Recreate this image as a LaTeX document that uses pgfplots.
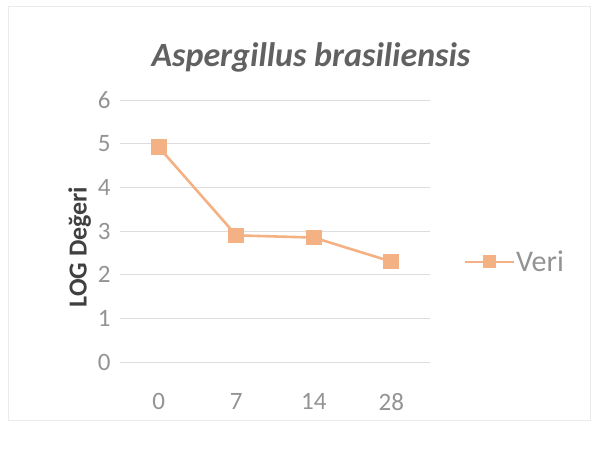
\documentclass[border=0pt]{standalone}
\usepackage{fontspec}
\setmainfont{Carlito}
\usepackage{pgfplots}
\pgfplotsset{compat=1.18}
\definecolor{ser}{HTML}{F4B183}
\definecolor{txt}{HTML}{939393}
\definecolor{grd}{HTML}{DDDDDD}
\begin{document}
\begin{tikzpicture}[x=1pt,y=1pt]
\path[use as bounding box] (0,0) rectangle (594,450);
\draw[grd!60] (8,30) rectangle (590,444);
\begin{axis}[
  at={(120pt,88pt)}, anchor=south west,
  scale only axis, width=310pt, height=262pt,
  xmin=-0.5, xmax=3.5, ymin=0, ymax=6,
  xtick={0,1,2,3}, xticklabels={0,7,14,28},
  ytick={0,1,2,3,4,5,6},
  axis line style={draw=none},
  major tick length=0pt,
  ymajorgrids, grid style={grd, line width=0.8pt},
  tick label style={text=txt, font=\fontsize{25}{30}\selectfont},
  /pgf/number format/assume math mode=true,
  xticklabel style={yshift=-28pt},
  yticklabel style={xshift=-6pt},
  ylabel={\textbf{LOG Değeri}},
  ylabel style={text=black!75, font=\fontsize{26}{30}\selectfont, at={(ticklabel cs:0.5)}, xshift=-16pt},
  title={\textbf{\textit{Aspergillus brasiliensis}}},
  title style={text=black!62, font=\fontsize{34}{38}\selectfont, yshift=18pt, xshift=36pt},
  clip=false,
]
\addplot[ser, line width=2.6pt, mark=square*, mark size=6.5pt, mark options={fill=ser, draw=ser}]
  coordinates {(0,4.92) (1,2.9) (2,2.85) (3,2.3)};
\end{axis}
\draw[ser, line width=2.6pt] (465,188) -- (514,188);
\fill[ser] (483,181.5) rectangle (496,194.5);
\node[anchor=west, text=txt, font=\fontsize{30}{34}\selectfont, inner sep=0pt] at (516,189) {Veri};
\end{tikzpicture}
\end{document}
